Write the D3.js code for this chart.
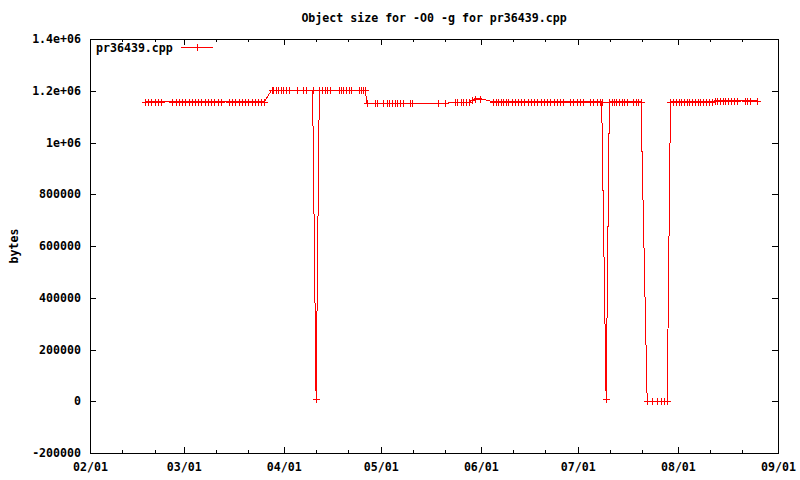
<!DOCTYPE html>
<html lang="en">
<head>
<meta charset="utf-8">
<script src="https://cdnjs.cloudflare.com/ajax/libs/d3/7.8.5/d3.min.js"></script>
<style>
  body { margin: 0; background: #fff; }
  svg text { font-family: 'DejaVu Sans Mono', monospace; font-size: 11.6px; font-weight: bold; fill: #000; }
</style>
</head>
<body>
<svg id="chart" width="800" height="480"></svg>
<script>
// build date/time of each measurement
const buildDates = [
  '2008-02-18 00', '2008-02-19 00', '2008-02-20 00', '2008-02-21 00', '2008-02-22 00', '2008-02-23 00',
  '2008-02-26 12', '2008-02-27 12', '2008-02-28 12', '2008-02-29 12', '2008-03-01 12', '2008-03-02 12', '2008-03-03 12', '2008-03-04 12',
  '2008-03-05 12', '2008-03-06 12', '2008-03-07 12', '2008-03-08 12', '2008-03-09 12', '2008-03-10 12', '2008-03-11 12', '2008-03-12 12',
  '2008-03-15 00', '2008-03-16 00', '2008-03-17 00', '2008-03-18 00', '2008-03-19 00', '2008-03-20 00', '2008-03-21 00', '2008-03-22 00', '2008-03-23 00', '2008-03-24 00', '2008-03-25 00', '2008-03-26 00',
  '2008-03-28 05', '2008-03-28 17', '2008-03-29 12', '2008-03-30 07', '2008-03-31 00', '2008-03-31 19', '2008-04-01 17', '2008-04-02 17', '2008-04-05 00', '2008-04-07 00', '2008-04-07 19', '2008-04-09 22',
  '2008-04-11 00',
  '2008-04-12 00', '2008-04-12 19', '2008-04-13 17', '2008-04-14 12', '2008-04-15 07', '2008-04-18 00', '2008-04-18 17', '2008-04-19 10',
  '2008-04-20 07', '2008-04-21 02', '2008-04-21 22', '2008-04-24 05', '2008-04-24 19', '2008-04-25 14', '2008-04-26 05',
  '2008-04-26 19', '2008-04-29 05', '2008-04-29 19', '2008-05-01 19', '2008-05-02 22', '2008-05-03 17', '2008-05-04 12', '2008-05-05 07',
  '2008-05-06 02', '2008-05-07 00', '2008-05-07 19', '2008-05-09 22', '2008-05-10 14', '2008-05-18 19', '2008-05-20 22',
  '2008-05-24 00', '2008-05-24 17', '2008-05-25 19', '2008-05-26 14', '2008-05-27 10', '2008-05-28 05',
  '2008-05-29 05', '2008-05-30 05', '2008-05-31 17',
  '2008-06-04 19', '2008-06-05 14', '2008-06-06 10', '2008-06-07 05', '2008-06-08 00', '2008-06-08 19',
  '2008-06-09 12', '2008-06-10 12', '2008-06-11 12', '2008-06-12 12', '2008-06-13 12', '2008-06-14 12', '2008-06-15 12', '2008-06-16 12', '2008-06-17 12',
  '2008-06-18 12', '2008-06-19 12', '2008-06-20 12', '2008-06-21 12', '2008-06-22 12', '2008-06-23 12', '2008-06-24 12', '2008-06-25 12', '2008-06-26 12',
  '2008-06-28 14', '2008-06-29 14', '2008-06-30 17', '2008-07-01 17', '2008-07-02 17',
  '2008-07-04 19', '2008-07-05 19', '2008-07-06 22', '2008-07-07 22', '2008-07-08 10',
  '2008-07-09 19',
  '2008-07-10 19', '2008-07-11 12', '2008-07-12 05', '2008-07-13 00', '2008-07-13 22', '2008-07-14 14',
  '2008-07-15 10', '2008-07-16 05', '2008-07-18 05', '2008-07-19 00', '2008-07-19 17', '2008-07-20 14',
  '2008-07-22 12', '2008-07-24 00', '2008-07-25 10', '2008-07-26 17', '2008-07-27 17', '2008-07-28 17',
  '2008-07-29 17', '2008-07-30 14', '2008-07-31 10', '2008-08-01 07', '2008-08-02 02', '2008-08-02 22', '2008-08-03 17', '2008-08-04 12',
  '2008-08-05 10', '2008-08-06 07', '2008-08-07 02', '2008-08-08 00', '2008-08-08 22', '2008-08-09 17', '2008-08-10 17', '2008-08-11 10',
  '2008-08-12 12', '2008-08-13 05', '2008-08-14 00', '2008-08-14 22', '2008-08-15 17', '2008-08-16 14', '2008-08-17 12',
  '2008-08-18 10', '2008-08-19 05', '2008-08-21 19', '2008-08-22 12', '2008-08-23 07', '2008-08-25 14'
]

// object size in bytes, one per date above
const objectSizes = [
  1158000, 1158000, 1158000, 1158000, 1158000, 1158000,
  1158000, 1158000, 1158000, 1158000, 1158000, 1158000, 1158000, 1158000,
  1158000, 1158000, 1158000, 1158000, 1158000, 1158000, 1158000, 1158000,
  1158000, 1158000, 1158000, 1158000, 1158000, 1158000, 1158000, 1158000, 1158000, 1158000, 1158000, 1158000,
  1202000, 1202000, 1202000, 1202000, 1202000, 1202000, 1202000, 1202000, 1202000, 1202000, 1202000, 1202000,
  10000,
  1202000, 1202000, 1202000, 1202000, 1202000, 1202000, 1202000, 1202000,
  1202000, 1202000, 1202000, 1202000, 1202000, 1202000, 1202000,
  1151000, 1151000, 1151000, 1151000, 1151000, 1151000, 1151000, 1151000,
  1151000, 1151000, 1151000, 1151000, 1151000, 1151000, 1151000,
  1156000, 1156000, 1156000, 1156000, 1156000, 1156000,
  1163000, 1170000, 1170000,
  1157000, 1157000, 1157000, 1157000, 1157000, 1157000,
  1157000, 1157000, 1157000, 1157000, 1157000, 1157000, 1157000, 1157000, 1157000,
  1157000, 1157000, 1157000, 1157000, 1157000, 1157000, 1157000, 1157000, 1157000,
  1157000, 1157000, 1157000, 1157000, 1157000,
  1157000, 1157000, 1157000, 1157000, 1157000,
  10000,
  1157000, 1157000, 1157000, 1157000, 1157000, 1157000,
  1157000, 1157000, 1157000, 1157000, 1157000, 1157000,
  0, 0, 0, 0, 0, 0,
  1157000, 1157000, 1157000, 1157000, 1157000, 1157000, 1157000, 1157000,
  1157000, 1157000, 1157000, 1157000, 1157000, 1157000, 1157000, 1157000,
  1161000, 1161000, 1161000, 1161000, 1161000, 1161000, 1161000,
  1161000, 1161000, 1161000, 1161000, 1161000, 1161000
]

const yTickValues = [-200000, 0, 200000, 400000, 600000, 800000, 1000000, 1200000, 1400000]
const yTickLabels = ['-200000', '0', '200000', '400000', '600000', '800000', '1e+06', '1.2e+06', '1.4e+06']
const xTickDates = ['2008-02-01', '2008-03-01', '2008-04-01', '2008-05-01', '2008-06-01', '2008-07-01', '2008-08-01', '2008-09-01']
const xMinorDates = ['2008-02-11', '2008-02-21', '2008-03-11', '2008-03-21', '2008-04-11', '2008-04-21', '2008-05-11', '2008-05-21',
  '2008-06-11', '2008-06-21', '2008-07-11', '2008-07-21', '2008-08-11', '2008-08-21']

const seriesName = 'pr36439.cpp'
const chartTitle = 'Object size for -O0 -g for pr36439.cpp'

const w = 800, h = 480
const padL = 90, padR = 778, padT = 39, padB = 453

const parseTime = d3.timeParse('%Y-%m-%d %H')
const parseDay = d3.timeParse('%Y-%m-%d')

const data = buildDates.map((d, i) => ({ date: parseTime(d), size: objectSizes[i] }))

const xScale = d3.scaleTime()
  .domain([parseDay('2008-02-01'), parseDay('2008-09-01')])
  .range([padL, padR])

const yScale = d3.scaleLinear()
  .domain([-200000, 1400000])
  .range([padB, padT])

const svg = d3.select('#chart')

svg.append('rect')
  .attr('width', w).attr('height', h).attr('fill', '#fff')

// axes, ticks drawn inward and mirrored like gnuplot
const majorX = xTickDates.map(parseDay)
const minorX = xMinorDates.map(parseDay)

function styleAxis(g) {
  g.select('.domain').remove()
  g.selectAll('line').attr('stroke', '#000').attr('shape-rendering', 'crispEdges')
  g.selectAll('text').attr('font-family', null).attr('font-size', null)
}

svg.append('g')
  .attr('transform', 'translate(0,' + padB + ')')
  .call(d3.axisBottom(xScale).tickValues(majorX).tickFormat(d3.timeFormat('%m/%d'))
    .tickSizeInner(-6).tickSizeOuter(0).tickPadding(10))
  .call(styleAxis)

svg.append('g')
  .attr('transform', 'translate(0,' + padB + ')')
  .call(d3.axisBottom(xScale).tickValues(minorX).tickFormat('').tickSizeInner(-3).tickSizeOuter(0))
  .call(styleAxis)

svg.append('g')
  .attr('transform', 'translate(0,' + padT + ')')
  .call(d3.axisTop(xScale).tickValues(majorX).tickFormat('').tickSizeInner(-6).tickSizeOuter(0))
  .call(styleAxis)

svg.append('g')
  .attr('transform', 'translate(0,' + padT + ')')
  .call(d3.axisTop(xScale).tickValues(minorX).tickFormat('').tickSizeInner(-3).tickSizeOuter(0))
  .call(styleAxis)

svg.append('g')
  .attr('transform', 'translate(' + padL + ',0)')
  .call(d3.axisLeft(yScale).tickValues(yTickValues).tickFormat((d, i) => yTickLabels[i])
    .tickSizeInner(-6).tickSizeOuter(0).tickPadding(9))
  .call(styleAxis)

svg.append('g')
  .attr('transform', 'translate(' + padR + ',0)')
  .call(d3.axisRight(yScale).tickValues(yTickValues).tickFormat('').tickSizeInner(-6).tickSizeOuter(0))
  .call(styleAxis)

svg.append('rect')
  .attr('x', padL + 0.5).attr('y', padT + 0.5)
  .attr('width', padR - padL).attr('height', padB - padT)
  .attr('fill', 'none').attr('stroke', '#000')
  .attr('shape-rendering', 'crispEdges')

// data line + markers
const line = d3.line()
  .x(d => xScale(d.date))
  .y(d => yScale(d.size))

svg.append('path')
  .datum(data)
  .attr('d', line)
  .attr('fill', 'none')
  .attr('stroke', '#ff0000')
  .attr('stroke-width', 1)
  .attr('shape-rendering', 'crispEdges')

const plus = 'M-3.5,0H3.5M0,-3.5V3.5'

svg.append('g')
  .selectAll('path')
  .data(data)
  .enter()
  .append('path')
  .attr('d', plus)
  .attr('transform', d => 'translate(' + (Math.round(xScale(d.date)) + 0.5) + ',' + (Math.round(yScale(d.size)) + 0.5) + ')')
  .attr('stroke', '#ff0000')
  .attr('fill', 'none')
  .attr('shape-rendering', 'crispEdges')

// legend
svg.append('text')
  .attr('x', 96).attr('y', 52)
  .text(seriesName)

svg.append('line')
  .attr('x1', 181).attr('x2', 213).attr('y1', 47.5).attr('y2', 47.5)
  .attr('stroke', '#ff0000').attr('shape-rendering', 'crispEdges')

svg.append('path')
  .attr('d', plus)
  .attr('transform', 'translate(197.5,47.5)')
  .attr('stroke', '#ff0000').attr('fill', 'none')
  .attr('shape-rendering', 'crispEdges')

// title and y label
svg.append('text')
  .attr('x', (padL + padR) / 2).attr('y', 22)
  .attr('text-anchor', 'middle')
  .text(chartTitle)

svg.append('text')
  .attr('transform', 'translate(18,' + (padT + padB) / 2 + ') rotate(-90)')
  .attr('text-anchor', 'middle')
  .text('bytes')
</script>
</body>
</html>
